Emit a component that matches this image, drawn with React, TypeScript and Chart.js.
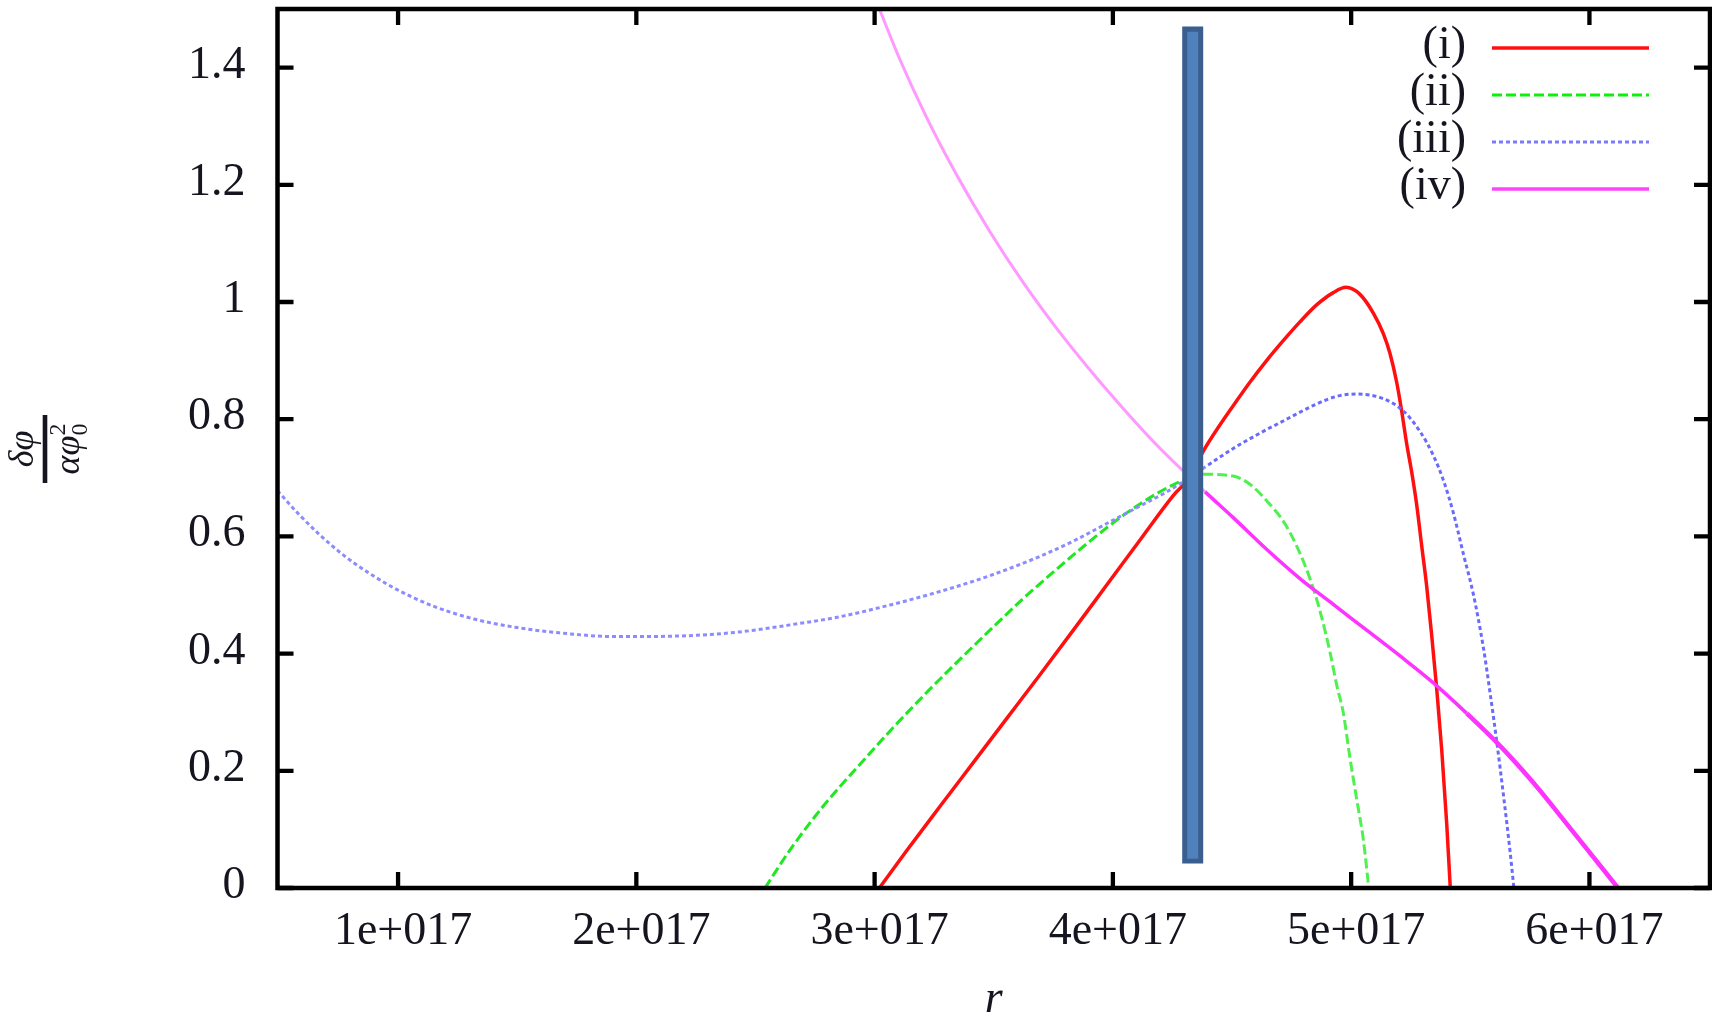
import React, { useEffect, useRef } from 'react';
import { Chart, registerables } from 'chart.js';

Chart.register(...registerables);

// ---- data (x in units of 1e17) ----
const xTicks = [1, 2, 3, 4, 5, 6];
const yTicks = [0, 0.2, 0.4, 0.6, 0.8, 1, 1.2, 1.4];
const seriesLabels = ['(i)', '(ii)', '(iii)', '(iv)'];

const redX = [3.02, 3.135, 3.274, 3.414, 3.554, 3.694, 3.834, 3.974, 4.114, 4.254, 4.33, 4.379, 4.449, 4.519, 4.575, 4.645, 4.715, 4.785, 4.855, 4.925, 4.978, 5.037, 5.093, 5.135, 5.163, 5.191, 5.212, 5.233, 5.254, 5.275, 5.296, 5.317, 5.338, 5.359, 5.38, 5.401, 5.416];
const redY = [0, 0.064, 0.139, 0.214, 0.289, 0.364, 0.44, 0.517, 0.594, 0.67, 0.705, 0.745, 0.79, 0.831, 0.863, 0.9, 0.934, 0.966, 0.995, 1.016, 1.025, 1.013, 0.981, 0.946, 0.912, 0.863, 0.814, 0.758, 0.71, 0.654, 0.584, 0.515, 0.431, 0.34, 0.236, 0.11, 0];

const greenX = [2.54, 2.645, 2.785, 2.925, 3.065, 3.205, 3.345, 3.484, 3.624, 3.764, 3.904, 4.044, 4.184, 4.283, 4.33, 4.379, 4.505, 4.575, 4.645, 4.715, 4.771, 4.827, 4.869, 4.911, 4.939, 4.967, 4.995, 5.023, 5.051, 5.074];
const greenY = [0, 0.065, 0.14, 0.205, 0.268, 0.328, 0.385, 0.44, 0.494, 0.544, 0.592, 0.636, 0.673, 0.694, 0.702, 0.706, 0.703, 0.689, 0.661, 0.626, 0.584, 0.528, 0.473, 0.403, 0.347, 0.299, 0.222, 0.152, 0.083, 0];

const blueX = [0.494, 0.583, 0.668, 0.771, 0.891, 1.011, 1.148, 1.319, 1.491, 1.662, 1.919, 2.176, 2.433, 2.645, 2.855, 3.065, 3.274, 3.484, 3.694, 3.834, 3.974, 4.114, 4.226, 4.33, 4.4, 4.505, 4.603, 4.715, 4.855, 4.939, 5.023, 5.135, 5.219, 5.289, 5.345, 5.387, 5.429, 5.471, 5.513, 5.555, 5.583, 5.611, 5.639, 5.667, 5.683];
const blueY = [0.678, 0.638, 0.604, 0.568, 0.534, 0.506, 0.481, 0.459, 0.445, 0.436, 0.429, 0.43, 0.437, 0.449, 0.463, 0.483, 0.506, 0.533, 0.566, 0.592, 0.622, 0.652, 0.676, 0.703, 0.722, 0.75, 0.773, 0.797, 0.826, 0.839, 0.843, 0.835, 0.814, 0.779, 0.738, 0.696, 0.64, 0.57, 0.501, 0.41, 0.333, 0.25, 0.159, 0.062, 0];

const magentaX = [3.02, 3.107, 3.218, 3.344, 3.484, 3.624, 3.764, 3.904, 4.044, 4.184, 4.33, 4.387, 4.505, 4.645, 4.785, 4.925, 5.065, 5.205, 5.345, 5.485, 5.624, 5.764, 5.904, 6.12];
const magentaY = [1.5, 1.413, 1.315, 1.217, 1.12, 1.033, 0.955, 0.884, 0.818, 0.756, 0.698, 0.676, 0.632, 0.578, 0.528, 0.484, 0.44, 0.396, 0.35, 0.298, 0.243, 0.18, 0.11, 0];

const barX = 4.335;
const barOuterY = [0.042, 1.47];
const barInnerY = [0.05, 1.461];

// ---- styles ----
const FONT = "'Liberation Serif', 'DejaVu Serif', serif";
const TEXT = '#151520';
const colors = ['#ff1010', '#10ee10', '#7a7aff', '#ff44ff'];
const widths = [3.5, 3, 3, 3.5];
const dashes: number[][] = [[], [10, 4], [4, 3], []];

const pts = (xs: number[], ys: number[]) => xs.map((x, i) => ({ x, y: ys[i] }));

const framePlugin = {
  id: 'gnuframe',
  afterDatasetsDraw(chart: any) {
    const { ctx, chartArea: a, scales } = chart;
    ctx.save();
    ctx.setLineDash([]);
    ctx.strokeStyle = '#000';
    ctx.lineWidth = 4.5;
    ctx.strokeRect(a.left, a.top, a.right - a.left, a.bottom - a.top);
    const TL = 16;
    ctx.lineWidth = 4.3;
    ctx.beginPath();
    for (const v of xTicks) {
      const px = scales.x.getPixelForValue(v);
      ctx.moveTo(px, a.bottom); ctx.lineTo(px, a.bottom - TL);
      ctx.moveTo(px, a.top); ctx.lineTo(px, a.top + TL);
    }
    for (const v of yTicks) {
      const py = scales.y.getPixelForValue(v);
      ctx.moveTo(a.left, py); ctx.lineTo(a.left + TL, py);
      ctx.moveTo(a.right, py); ctx.lineTo(a.right - TL, py);
    }
    ctx.stroke();

    // legend
    const rowY0 = a.top + 39;
    const rowDy = 47;
    seriesLabels.forEach((lab, i) => {
      const y = rowY0 + i * rowDy;
      ctx.font = `46px ${FONT}`;
      ctx.fillStyle = TEXT;
      ctx.textAlign = 'right';
      ctx.textBaseline = 'alphabetic';
      ctx.fillText(lab, a.right - 244, y + 10);
      ctx.strokeStyle = colors[i];
      ctx.lineWidth = widths[i];
      ctx.setLineDash(dashes[i]);
      ctx.beginPath();
      ctx.moveTo(a.right - 218, y);
      ctx.lineTo(a.right - 61, y);
      ctx.stroke();
    });
    ctx.setLineDash([]);

    // x title
    ctx.font = `italic 46px ${FONT}`;
    ctx.fillStyle = TEXT;
    ctx.textAlign = 'center';
    ctx.textBaseline = 'alphabetic';
    ctx.fillText('r', (a.left + a.right) / 2, 1012);

    // y title: rotated fraction
    ctx.save();
    ctx.translate(45, 449);
    ctx.rotate(-Math.PI / 2);
    ctx.fillStyle = TEXT;
    ctx.fillRect(-34, -2.3, 68, 4.6);
    ctx.textAlign = 'center';
    ctx.font = `italic 36px ${FONT}`;
    ctx.fillText('δφ', 0, -12);
    ctx.textAlign = 'left';
    const main = 'αφ';
    const mw = ctx.measureText(main).width;
    ctx.font = `24px ${FONT}`;
    const sw = ctx.measureText('2').width;
    const x0 = -(mw + sw) / 2;
    ctx.font = `italic 36px ${FONT}`;
    ctx.fillText(main, x0, 34);
    ctx.font = `24px ${FONT}`;
    ctx.fillText('2', x0 + mw, 20);
    ctx.fillText('0', x0 + mw, 42);
    ctx.restore();

    ctx.restore();
  },
};

const noPad = (s: any) => {
  s.paddingTop = 0;
  s.paddingBottom = 0;
  s.paddingLeft = 0;
  s.paddingRight = 0;
};

export default function App() {
  const ref = useRef<HTMLCanvasElement>(null);
  useEffect(() => {
    if (!ref.current) return;
    const lineDs = (label: string, xs: number[], ys: number[], i: number, extra: any = {}) => ({
      label,
      data: pts(xs, ys),
      borderColor: colors[i],
      borderWidth: widths[i],
      borderDash: dashes[i],
      pointRadius: 0,
      cubicInterpolationMode: 'monotone',
      fill: false,
      order: 10 - i,
      ...extra,
    });
    const chart = new Chart(ref.current, {
      type: 'line',
      data: {
        datasets: [
          {
            label: 'bar-inner',
            data: pts([barX, barX], barInnerY),
            borderColor: '#4f81bd',
            borderWidth: 11,
            borderCapStyle: 'butt',
            pointRadius: 0,
            order: -3,
          } as any,
          {
            label: 'bar-outer',
            data: pts([barX, barX], barOuterY),
            borderColor: '#3a5f8e',
            borderWidth: 21,
            borderCapStyle: 'butt',
            pointRadius: 0,
            order: -2,
          } as any,
          lineDs(seriesLabels[0], redX, redY, 0),
          lineDs(seriesLabels[1], greenX, greenY, 1, {
            segment: { borderColor: (c: any) => (c.p0.parsed.x < barX ? '#20e820' : '#50f050') },
          }),
          lineDs(seriesLabels[2], blueX, blueY, 2, {
            segment: { borderColor: (c: any) => (c.p0.parsed.x < barX ? '#8c8cff' : '#6a6aff') },
          }),
          lineDs(seriesLabels[3], magentaX, magentaY, 3, {
            segment: {
              borderColor: (c: any) => (c.p0.parsed.x < barX ? '#ff99ff' : '#ff33ff'),
              borderWidth: (c: any) => (c.p0.parsed.x < barX ? 3 : c.p0.parsed.x > 5.4 ? 4.5 : 3.5),
            },
          }),
        ] as any,
      },
      options: {
        responsive: false,
        animation: false,
        devicePixelRatio: 1,
        layout: { padding: { top: 9, right: 2, left: 0, bottom: 0 } },
        plugins: { legend: { display: false }, tooltip: { enabled: false } },
        elements: { point: { radius: 0 } },
        scales: {
          x: {
            type: 'linear',
            min: 0.494,
            max: 6.506,
            afterBuildTicks: (s: any) => { s.ticks = xTicks.map((v) => ({ value: v })); },
            afterFit: (s: any) => { s.height = 128; noPad(s); },
            grid: { display: false, drawTicks: false },
            border: { display: false },
            ticks: {
              font: { family: FONT, size: 46, lineHeight: 1.2 },
              color: TEXT,
              padding: 16,
              labelOffset: 5,
              maxRotation: 0,
              autoSkip: false,
              callback: (v: any) => `${v}e+017`,
            },
          },
          y: {
            type: 'linear',
            min: 0,
            max: 1.5,
            afterBuildTicks: (s: any) => { s.ticks = yTicks.map((v) => ({ value: v })); },
            afterFit: (s: any) => { s.width = 277.5; noPad(s); },
            grid: { display: false, drawTicks: false },
            border: { display: false },
            ticks: {
              font: { family: FONT, size: 46, lineHeight: 1.2 },
              color: TEXT,
              padding: 32,
              labelOffset: -2,
              autoSkip: false,
              callback: (v: any) => String(Math.round(Number(v) * 10) / 10),
            },
          },
        },
      } as any,
      plugins: [framePlugin],
    });
    return () => chart.destroy();
  }, []);
  return (
    <div style={{ position: 'absolute', left: 0, top: 0, width: 1712, height: 1016, background: '#fff' }}>
      <canvas ref={ref} width={1712} height={1016} style={{ display: 'block' }} />
    </div>
  );
}
